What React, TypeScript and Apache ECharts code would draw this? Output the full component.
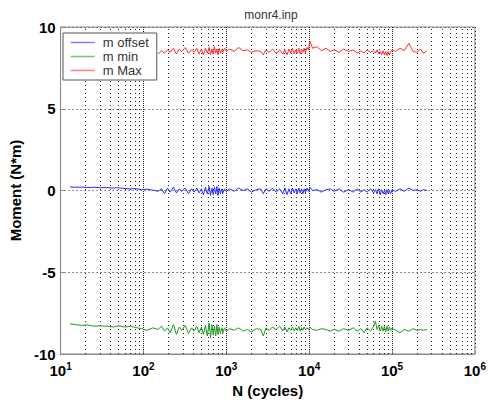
import React, { useEffect, useRef } from "react";
import * as echarts from "echarts";

const cycles = [
  13, 15, 18, 21, 25, 30, 36, 43, 50, 60, 70, 80, 95, 110, 130,
  150, 165, 180, 195, 210, 230, 250, 270, 290, 320, 350, 380, 410, 440, 470,
  500, 530, 560, 590, 620, 645, 670, 695, 720, 745, 770, 795, 820, 850, 880,
  910, 950, 1000, 1100, 1250, 1400, 1600, 1800, 2000, 2300, 2600, 2800, 3000, 3300, 3600,
  4000, 4400, 4800, 5100, 5400, 5700, 6000, 6300, 6600, 6900, 7200, 7500, 7800, 8100, 8400,
  8700, 9000, 9400, 9800, 10200, 11000, 12500, 14000, 16000, 18000, 20000, 23000, 26000, 30000, 34000,
  38000, 42000, 46000, 50000, 55000, 60000, 63000, 66000, 69000, 72000, 75000, 78000, 81000, 84000, 87000,
  90000, 93000, 96000, 100000, 110000, 125000, 140000, 160000, 180000, 200000, 220000, 240000, 265000,
];

const mOffset = [
  0.22, 0.2, 0.21, 0.18, 0.2, 0.17, 0.18, 0.15, 0.17, 0.12, 0.1, 0.12, 0.05, 0.08, 0.02,
  -0.05, 0.1, -0.2, 0.15, -0.1, 0.2, -0.15, 0.1, -0.05, 0.15, -0.2, 0.1, -0.1, 0.15, -0.15,
  0.1, -0.25, 0.2, -0.2, 0.25, -0.3, 0.15, -0.25, 0.2, -0.2, 0.25, -0.3, 0.15, -0.2, 0.1,
  -0.15, 0.1, -0.05, 0.1, -0.05, 0.15, 0.0, 0.1, -0.1, 0.05, 0.1, -0.2, 0.1, -0.05, 0.15,
  -0.1, 0.1, -0.2, 0.15, -0.25, 0.1, -0.2, 0.15, -0.15, 0.1, -0.2, 0.15, -0.15, 0.1, -0.2,
  0.1, -0.15, 0.15, -0.05, 0.2, 0.0, 0.05, -0.1, 0.05, 0.1, -0.05, 0.1, -0.1, 0.05, -0.1,
  0.1, -0.1, 0.05, -0.1, 0.1, -0.15, 0.05, -0.2, 0.1, -0.25, 0.05, -0.2, 0.0, -0.25, 0.05,
  -0.2, 0.0, -0.2, 0.05, -0.05, 0.1, -0.05, 0.15, 0.0, 0.05, -0.05, 0.05, 0.0,
];

const mMin = [
  -8.15, -8.2, -8.25, -8.22, -8.3, -8.28, -8.3, -8.35, -8.28, -8.35, -8.3, -8.38, -8.45, -8.55, -8.4,
  -8.5, -8.3, -8.6, -8.4, -8.7, -8.2, -8.8, -8.35, -8.55, -8.25, -8.75, -8.4, -8.6, -8.3, -8.7,
  -8.35, -8.8, -8.25, -8.9, -8.1, -9.0, -8.2, -8.85, -8.3, -8.9, -8.2, -8.8, -8.35, -8.75, -8.4,
  -8.7, -8.4, -8.6, -8.45, -8.55, -8.4, -8.6, -8.5, -8.65, -8.45, -8.5, -8.9, -8.4, -8.55, -8.35,
  -8.5, -8.3, -8.6, -8.35, -8.65, -8.4, -8.55, -8.35, -8.6, -8.4, -8.55, -8.3, -8.6, -8.4, -8.55,
  -8.35, -8.5, -8.4, -8.5, -8.35, -8.5, -8.55, -8.45, -8.5, -8.6, -8.5, -8.6, -8.45, -8.55, -8.4,
  -8.6, -8.45, -8.7, -8.4, -8.6, -8.3, -8.0, -8.5, -8.25, -8.6, -8.3, -8.6, -8.3, -8.65, -8.3,
  -8.6, -8.35, -8.55, -8.4, -8.55, -8.7, -8.5, -8.6, -8.45, -8.55, -8.5, -8.55, -8.5,
];

const mMax = [
  null, null, null, null, null, null, null, null, null, null, null, null, null, null, null,
  8.35, 8.55, 8.4, 8.6, 8.45, 8.7, 8.35, 8.65, 8.5, 8.75, 8.4, 8.6, 8.45, 8.7, 8.35,
  8.65, 8.3, 8.7, 8.4, 8.75, 8.3, 8.65, 8.35, 8.8, 8.4, 8.65, 8.3, 8.7, 8.4, 8.6,
  8.45, 8.7, 8.5, 8.65, 8.5, 8.75, 8.55, 8.6, 8.45, 8.55, 8.5, 8.3, 8.6, 8.45, 8.65,
  8.4, 8.6, 8.35, 8.6, 8.3, 8.65, 8.4, 8.7, 8.35, 8.6, 8.4, 8.7, 8.35, 8.65, 8.45,
  8.7, 8.4, 8.75, 8.6, 9.15, 8.7, 8.8, 8.55, 8.7, 8.5, 8.6, 8.45, 8.65, 8.5, 8.6,
  8.4, 8.55, 8.4, 8.6, 8.45, 8.55, 8.4, 8.6, 8.35, 8.5, 8.3, 8.55, 8.3, 8.5, 8.25,
  8.5, 8.3, 8.45, 8.6, 8.5, 8.7, 8.55, 9.0, 8.5, 8.45, 8.65, 8.4, 8.55,
];

const gridCycles = [
  20, 30, 40, 50, 60, 70, 80, 90, 100,
  200, 300, 400, 500, 600, 700, 800, 900, 1000,
  2000, 3000, 4000, 5000, 6000, 7000, 8000, 9000, 10000,
  20000, 30000, 40000, 50000, 60000, 70000, 80000, 90000, 100000,
  200000, 300000, 400000, 500000, 600000, 700000, 800000, 900000,
];

const seriesNames = ["m offset", "m min", "m Max"];
const FONT = "Liberation Sans, Arial, Helvetica, sans-serif";

export default function App() {
  const ref = useRef<HTMLDivElement>(null);
  useEffect(() => {
    if (!ref.current) return;
    const chart = echarts.init(ref.current, null, { renderer: "svg" });
    const dotted = { color: "#222", width: 1, type: [1, 3] as any };
    const mk = (vals: (number | null)[]) => cycles.map((c, i) => [c, vals[i]]);
    chart.setOption({
      animation: false,
      backgroundColor: "#fff",
      textStyle: { fontFamily: FONT },
      title: {
        text: "monr4.inp",
        left: 266,
        textAlign: "center",
        top: 4,
        textStyle: { fontSize: 12, fontWeight: "normal", color: "#333", fontFamily: FONT },
      },
      legend: {
        data: seriesNames,
        orient: "vertical",
        left: 63,
        top: 33,
        padding: [3, 8, 3, 7],
        itemGap: 1,
        itemWidth: 24,
        itemHeight: 13,
        backgroundColor: "#fff",
        borderColor: "#555",
        borderWidth: 1,
        borderRadius: 0,
        itemStyle: { opacity: 0 },
        lineStyle: { width: 1.5, opacity: 0.6 },
        textStyle: { fontSize: 13, color: "#333", fontFamily: FONT, padding: [0, 0, 0, 3] },
      },
      grid: {
        left: 58,
        right: 12,
        top: 27,
        bottom: 50,
        show: true,
        borderColor: "#888",
        borderWidth: 1,
        backgroundColor: "#fff",
      },
      xAxis: {
        type: "log",
        logBase: 10,
        min: 10,
        max: 1000000,
        name: "N (cycles)",
        nameLocation: "middle",
        nameGap: 27,
        nameTextStyle: { fontSize: 15, fontWeight: "bold", color: "#000", fontFamily: FONT },
        axisLine: { show: true, onZero: false, lineStyle: { color: "#888" } },
        axisTick: { show: true, inside: true, length: 4, lineStyle: { color: "#888" } },
        splitLine: { show: true, lineStyle: dotted },
        axisLabel: {
          margin: 7,
          color: "#000",
          formatter: (v: number) => "{b|10}{s|" + Math.round(Math.log10(v)) + "}",
          rich: {
            b: { fontSize: 15, fontWeight: "bold", color: "#000", fontFamily: FONT },
            s: { fontSize: 10, fontWeight: "bold", color: "#000", fontFamily: FONT, padding: [0, 0, 9, 0] },
          },
        },
      },
      yAxis: {
        type: "value",
        min: -10,
        max: 10,
        interval: 5,
        name: "Moment (N*m)",
        nameLocation: "middle",
        nameGap: 30,
        nameTextStyle: { fontSize: 15, fontWeight: "bold", color: "#000", fontFamily: FONT },
        axisLine: { show: true, onZero: false, lineStyle: { color: "#888" } },
        axisTick: { show: true, inside: true, length: 4, lineStyle: { color: "#888" } },
        splitLine: { show: true, lineStyle: dotted },
        axisLabel: { margin: 5, fontSize: 15, fontWeight: "bold", color: "#000", fontFamily: FONT },
      },
      series: [
        {
          name: seriesNames[0],
          type: "line",
          data: mk(mOffset),
          symbol: "none",
          lineStyle: { color: "#2a2aff", width: 1 },
          itemStyle: { color: "#2a2aff" },
          z: 3,
          markLine: {
            silent: true,
            symbol: "none",
            z: 1,
            label: { show: false },
            lineStyle: dotted,
            data: gridCycles.map((c) => ({ xAxis: c })),
          },
        },
        {
          name: seriesNames[1],
          type: "line",
          data: mk(mMin),
          symbol: "none",
          lineStyle: { color: "#1e9a1e", width: 1 },
          itemStyle: { color: "#1e9a1e" },
          z: 3,
        },
        {
          name: seriesNames[2],
          type: "line",
          data: mk(mMax),
          symbol: "none",
          connectNulls: false,
          lineStyle: { color: "#ff2a2a", width: 1 },
          itemStyle: { color: "#ff2a2a" },
          z: 3,
        },
      ],
    });
    return () => chart.dispose();
  }, []);
  return (
    <div
      ref={ref}
      style={{ position: "fixed", left: 0, top: 0, width: 489, height: 404, background: "#fff" }}
    />
  );
}
